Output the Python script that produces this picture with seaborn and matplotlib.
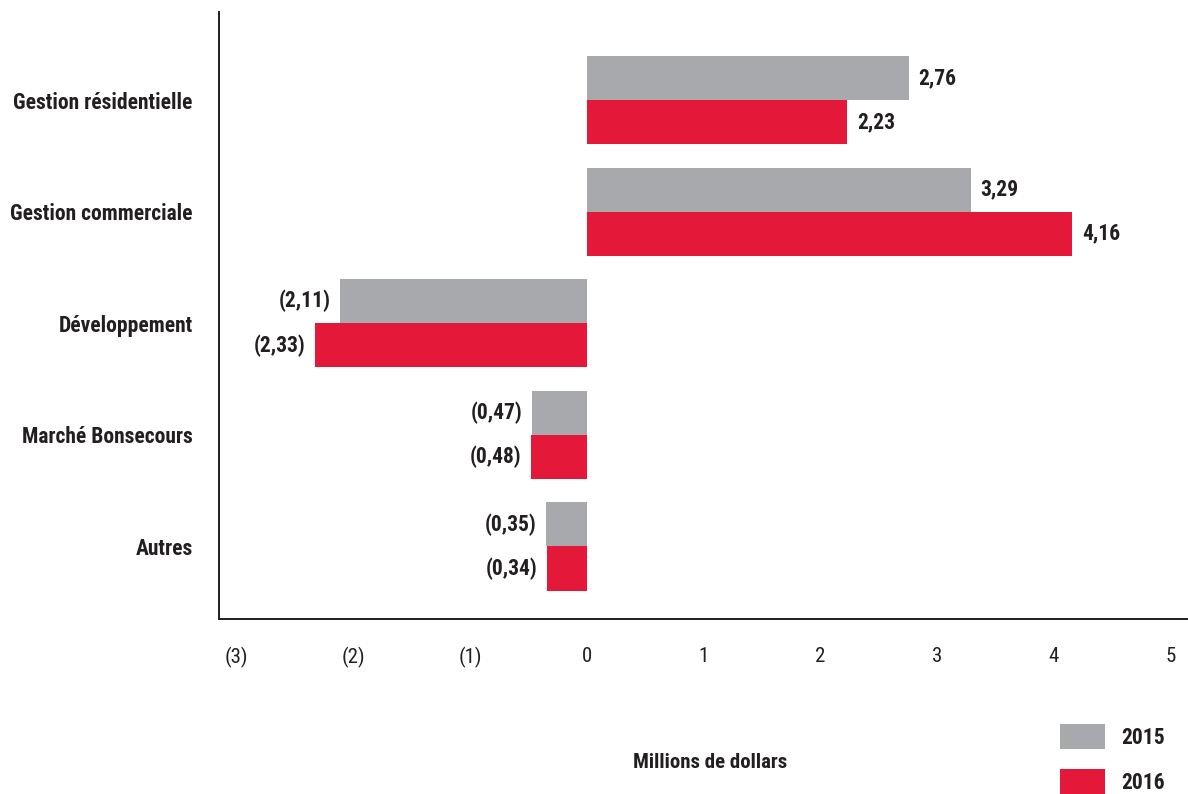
import matplotlib
matplotlib.use("Agg")
import matplotlib.pyplot as plt
import seaborn as sns
import pandas as pd

categories = ["Gestion résidentielle", "Gestion commerciale", "Développement",
              "Marché Bonsecours", "Autres"]
years = ["2015", "2016"]
v2015 = [2.76, 3.29, -2.11, -0.47, -0.35]
v2016 = [2.23, 4.16, -2.33, -0.48, -0.34]
xticks = [-3, -2, -1, 0, 1, 2, 3, 4, 5]
xtick_labels = ["(3)", "(2)", "(1)", "0", "1", "2", "3", "4", "5"]
colors = ["#A7A9AC", "#E4193A"]

df = pd.DataFrame({
    "cat": categories * 2,
    "year": [years[0]] * len(categories) + [years[1]] * len(categories),
    "val": v2015 + v2016,
})

sns.set_theme(style="white")
plt.rcParams["font.family"] = ["Roboto Condensed", "Barlow Condensed", "DejaVu Sans"]
plt.rcParams["text.color"] = "#231F20"

fig = plt.figure(figsize=(11.88, 7.94), dpi=100)
ax = fig.add_axes([219 / 1188, 175 / 794, 1 - 219 / 1188, (619 - 12) / 794])

sns.barplot(data=df, y="cat", x="val", hue="year", hue_order=years,
            order=categories, palette=colors, orient="h", width=0.79,
            saturation=1, linewidth=0, edgecolor="none", ax=ax, legend=True)

def fmt(v):
    s = f"{abs(v):.2f}".replace(".", ",")
    return s if v >= 0 else f"({s})"

for cont, vals in zip(ax.containers, [v2015, v2016]):
    ax.bar_label(cont, labels=[fmt(v) for v in vals], padding=7,
                 fontsize=15.5, fontweight="bold", color="#231F20")

ax.set_xlim(-3.15, 5.15)
ax.set_ylim(4.65, -0.79)
ax.set_xticks(xticks)
ax.set_xticklabels(xtick_labels, fontsize=15, color="#231F20")
ax.tick_params(axis="x", length=0, pad=20)
ax.tick_params(axis="y", length=0, pad=19)
for lab in ax.get_yticklabels():
    lab.set_fontsize(15.5)
    lab.set_fontweight("bold")
    lab.set_color("#231F20")
ax.set_ylabel("")
ax.set_xlabel("Millions de dollars", fontsize=15, fontweight="bold",
              color="#231F20")
ax.xaxis.set_label_coords((710 - 219) / (1188 - 219), -(753 - 619) / (619 - 12))

for s in ["top", "right"]:
    ax.spines[s].set_visible(False)
for s in ["left", "bottom"]:
    ax.spines[s].set_color("#231F20")
    ax.spines[s].set_linewidth(1.4)

sns.move_legend(ax, loc="upper left", bbox_to_anchor=(1060 / 1188, 1 - 724 / 794),
                bbox_transform=fig.transFigure, frameon=False, title=None,
                fontsize=15.5, handlelength=2.1, handleheight=1.4,
                labelspacing=0.95, handletextpad=0.75, borderpad=0,
                borderaxespad=0)
for t in ax.get_legend().get_texts():
    t.set_fontweight("bold")

fig.savefig("out.png", dpi=100)
